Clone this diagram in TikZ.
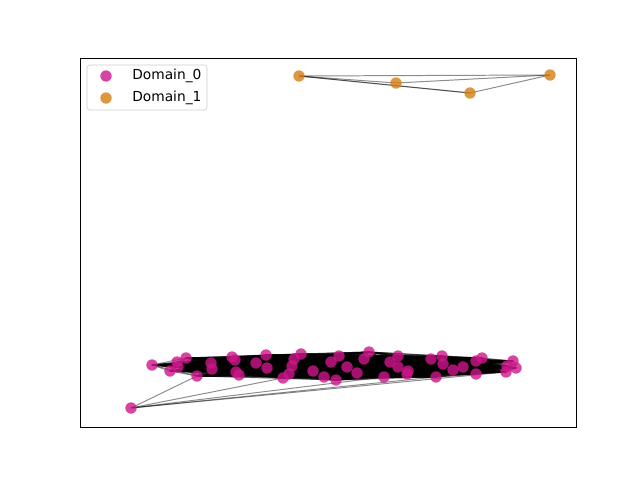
\documentclass[tikz,border=0pt]{standalone}
\usepackage{fontspec}
\setmainfont{DejaVu Sans}
\usetikzlibrary{positioning}
\definecolor{domPink}{RGB}{206,22,138}
\definecolor{domOrange}{RGB}{212,126,18}
\definecolor{legendGray}{RGB}{204,204,204}

\begin{document}
\begin{tikzpicture}[
  x=0.025cm, y=-0.025cm,
  dotA/.style={circle, fill=domPink, fill opacity=0.8, inner sep=0pt,
               minimum size=2.85mm},
  dotB/.style={circle, fill=domOrange, fill opacity=0.8, inner sep=0pt,
               minimum size=2.85mm},
  edge/.style={draw=black, opacity=0.45, line width=0.7pt},
  lbl/.style={anchor=west, inner sep=0pt, font=\fontsize{9.8}{11}\selectfont},
]
\useasboundingbox (0,0) rectangle (640,480);

%% Nodes
\foreach \x/\y [count=\n] in {152/365, 170/371, 177/362, 178/367, 186/358,
    197/376, 211/363, 212/369, 232/357, 235/360, 236/372, 239/375,
    256/363, 266/355, 267/368, 283/378, 289/374, 292/366, 294/359,
    301/354, 313/371, 324/377, 331/362, 336/380, 339/356, 347/367,
    357/373, 364/359, 369/352, 384/377, 390/362, 398/356, 398/367,
    408/371, 407/374, 431/359, 436/377, 442/356, 443/364, 453/370,
    463/367, 476/361, 476/374, 482/358, 507/366, 506/372, 513/361,
    516/368}
  \coordinate (p\n) at (\x,\y);
\coordinate (far) at (131,408);

\coordinate (q1) at (299,76);
\coordinate (q2) at (396,83);
\coordinate (q3) at (470,93);
\coordinate (q4) at (550,75);

%% Edges
\foreach \i in {1,...,47} {
  \pgfmathtruncatemacro\k{\i+1}
  \foreach \j in {\k,...,48}
    \draw[edge] (p\i) -- (p\j);
}
\foreach \j in {6,16,30,37,46}
  \draw[edge] (far) -- (p\j);

\draw[edge] (q1) -- (q4);
\draw[edge] (q1) -- (q2);
\draw[edge] (q1) -- (q3);
\draw[edge] (q1) -- (q3);
\draw[edge] (q2) -- (q4);
\draw[edge] (q3) -- (q4);

%% Markers
\foreach \n in {1,...,48}
  \node[dotA] at (p\n) {};
\node[dotA] at (far) {};
\foreach \n in {1,...,4}
  \node[dotB] at (q\n) {};

%% Axes frame
\draw[line width=0.7pt] (80,58) rectangle (576,427);

%% Legend
\draw[draw=legendGray, fill=white, fill opacity=0.8, rounded corners=2pt]
  (87,65) rectangle (207,110);
\node[dotA] (keyA) at (106,76) {};
\node[dotB] (keyB) at (106,98) {};
\node[lbl, right=18.5pt of keyA.center] (txtA) {Domain\_0};
\node[lbl, right=18.5pt of keyB.center] (txtB) {Domain\_1};
\end{tikzpicture}
\end{document}
